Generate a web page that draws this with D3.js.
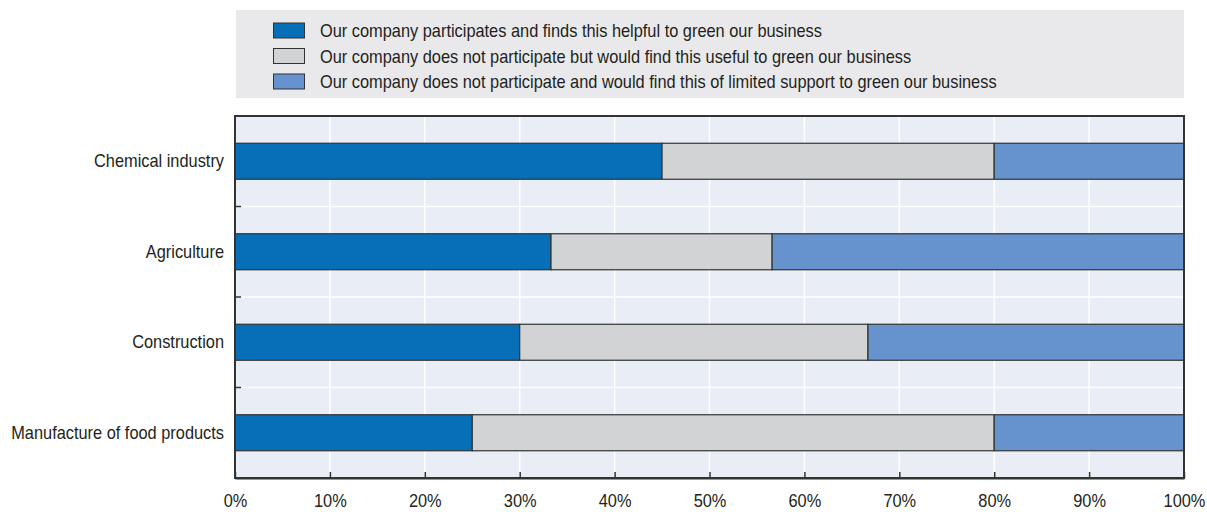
<!DOCTYPE html>
<html>
<head>
<meta charset="utf-8">
<script src="https://cdn.jsdelivr.net/npm/d3@7"></script>
<style>
  html, body { margin: 0; padding: 0; background: #ffffff; }
  svg { display: block; }
  text { font-family: "Liberation Sans", Arial, sans-serif; fill: #231f20; }
</style>
</head>
<body>
<svg id="chart" width="1207" height="512"></svg>
<script>
// Sectors shown top to bottom
const categories = ["Chemical industry", "Agriculture", "Construction", "Manufacture of food products"];

// Share of firms (%) in each response group
const participatesHelpful = [45.0, 33.3, 30.0, 25.0];
const wouldFindUseful     = [35.0, 23.3, 36.7, 55.0];
const limitedSupport      = [20.0, 43.4, 33.3, 20.0];

const seriesNames = [
  "Our company participates and finds this helpful to green our business",
  "Our company does not participate but would find this useful to green our business",
  "Our company does not participate and would find this of limited support to green our business"
];
const seriesColors = ["#066fb8", "#d2d3d5", "#6693cd"];

const tickValues = [0, 10, 20, 30, 40, 50, 60, 70, 80, 90, 100];

// Condensed look: squeeze the regular sans horizontally
const SQUEEZE = 0.91;
const FONT_SIZE = 18;

const svg = d3.select("#chart");
const margin = { left: 235, right: 23, top: 116, bottom: 34 };
const W = 1207, H = 512;
const plotW = W - margin.left - margin.right;
const plotH = H - margin.top - margin.bottom;

// Legend panel
const legend = svg.append("g");
legend.append("rect")
  .attr("x", 236).attr("y", 10).attr("width", 948).attr("height", 88)
  .attr("fill", "#e9e9eb");
seriesNames.forEach((name, i) => {
  const y = 23 + i * 25.5;
  legend.append("rect")
    .attr("x", 273.5).attr("y", y).attr("width", 31).attr("height", 15)
    .attr("fill", seriesColors[i]).attr("stroke", "#333333").attr("stroke-width", 1);
  legend.append("text")
    .attr("transform", `translate(320,${y + 14}) scale(${SQUEEZE},1)`)
    .attr("font-size", FONT_SIZE)
    .text(name);
});

const g = svg.append("g").attr("transform", `translate(${margin.left},${margin.top})`);

const x = d3.scaleLinear().domain([0, 100]).range([0, plotW]);
const y = d3.scaleBand().domain(categories).range([0, plotH]).paddingInner(0).paddingOuter(0);

// Plot background
g.append("rect").attr("width", plotW).attr("height", plotH).attr("fill", "#e9edf5");

// Vertical grid
g.selectAll("line.vgrid").data(tickValues.slice(1, -1)).join("line")
  .attr("class", "vgrid")
  .attr("x1", d => x(d)).attr("x2", d => x(d))
  .attr("y1", 0).attr("y2", plotH)
  .attr("stroke", "#ffffff").attr("stroke-width", 1.5);

// Horizontal grid at category boundaries
const bounds = categories.slice(1).map(c => y(c));
g.selectAll("line.hgrid").data(bounds).join("line")
  .attr("class", "hgrid")
  .attr("x1", 0).attr("x2", plotW)
  .attr("y1", d => d).attr("y2", d => d)
  .attr("stroke", "#ffffff").attr("stroke-width", 1.5);

// Stacked bars
const rows = categories.map((c, i) => ({
  cat: c,
  v: [participatesHelpful[i], wouldFindUseful[i], limitedSupport[i]]
}));
const barH = 36;
rows.forEach(r => {
  let acc = 0;
  r.v.forEach((val, k) => {
    g.append("rect")
      .attr("x", x(acc))
      .attr("y", y(r.cat) + (y.bandwidth() - barH) / 2)
      .attr("width", x(acc + val) - x(acc))
      .attr("height", barH)
      .attr("fill", seriesColors[k])
      .attr("stroke", "#333333").attr("stroke-width", 1.2);
    acc += val;
  });
});

// Frame
g.append("rect").attr("width", plotW).attr("height", plotH)
  .attr("fill", "none").attr("stroke", "#333333").attr("stroke-width", 2);

// Bottom axis
const xAxis = d3.axisBottom(x).tickValues(tickValues)
  .tickFormat(d => d + "%").tickSizeInner(-6).tickSizeOuter(0).tickPadding(16);
const xa = g.append("g").attr("transform", `translate(0,${plotH})`).call(xAxis);
xa.select(".domain").attr("stroke", "#333333").attr("stroke-width", 2);
xa.selectAll(".tick line").attr("stroke", "#333333").attr("stroke-width", 1.5);
xa.selectAll(".tick text").attr("font-size", FONT_SIZE).attr("fill", "#231f20")
  .attr("transform", `scale(${SQUEEZE},1)`)
  .style("font-family", "'Liberation Sans', Arial, sans-serif");

// Left axis: category labels, ticks at boundaries
const yAxis = d3.axisLeft(y).tickSize(0).tickPadding(11);
const ya = g.append("g").call(yAxis);
ya.select(".domain").remove();
ya.selectAll(".tick text").attr("font-size", FONT_SIZE).attr("fill", "#231f20")
  .attr("x", -11 / SQUEEZE)
  .attr("transform", `scale(${SQUEEZE},1)`)
  .style("font-family", "'Liberation Sans', Arial, sans-serif");
g.selectAll("line.ytick").data(bounds).join("line")
  .attr("class", "ytick")
  .attr("x1", 0).attr("x2", 6)
  .attr("y1", d => d).attr("y2", d => d)
  .attr("stroke", "#333333").attr("stroke-width", 1.5);
</script>
</body>
</html>
